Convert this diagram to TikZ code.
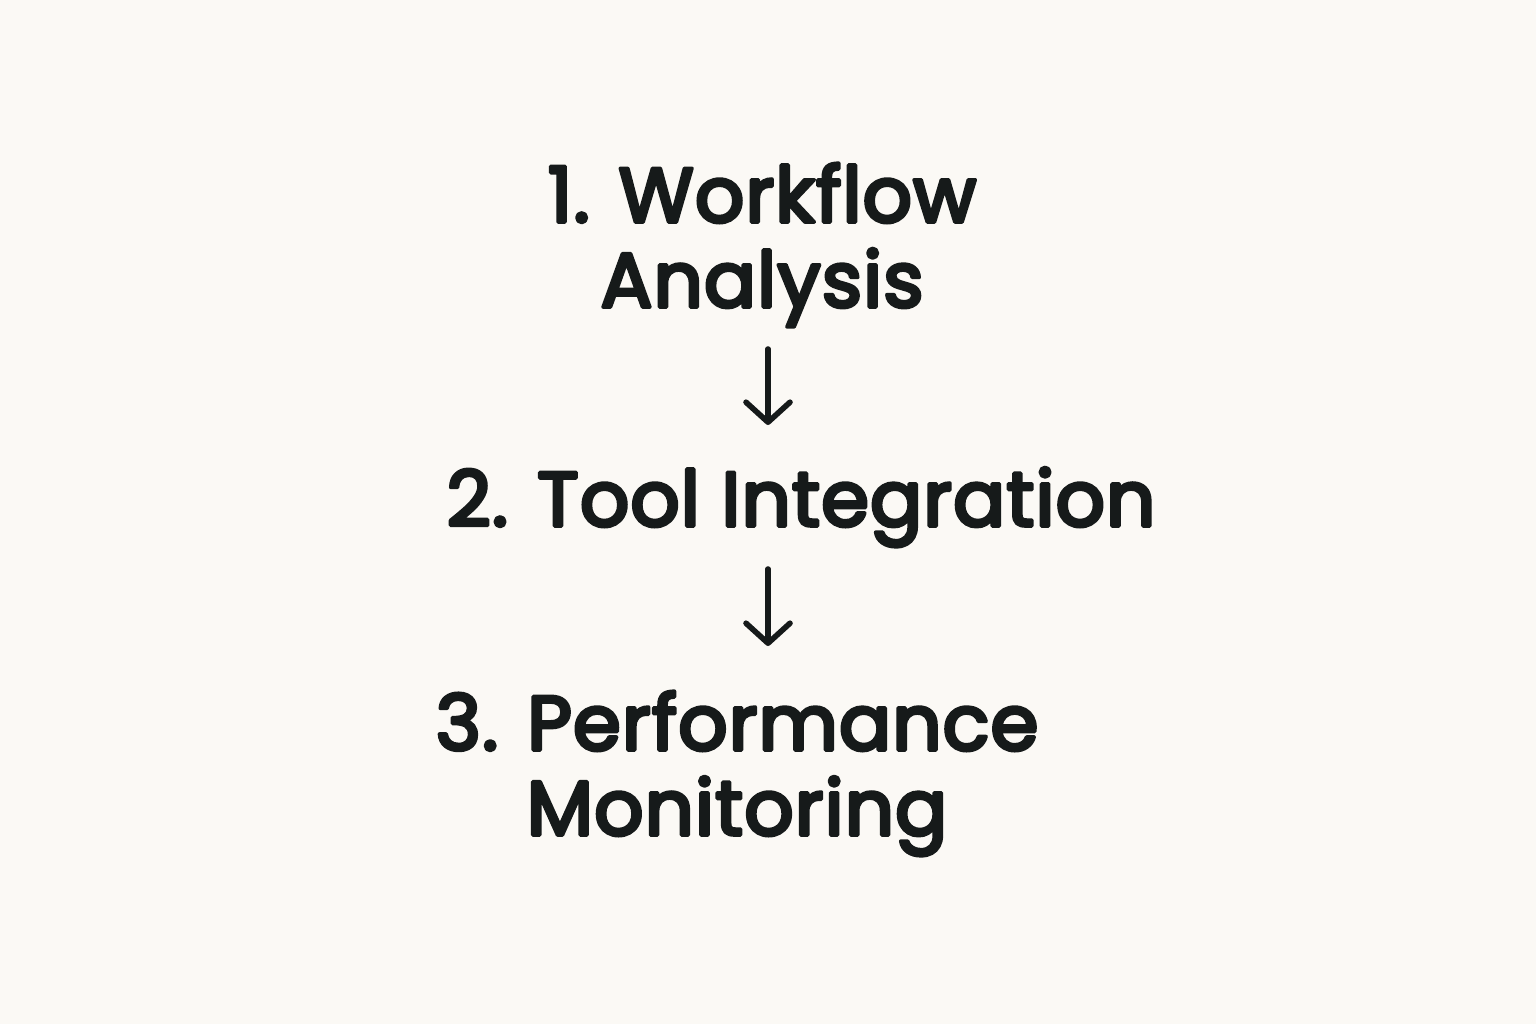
\documentclass[tikz,border=0pt]{standalone}
\usepackage{fontspec}
\newfontfamily\stepfont{Poppins}[LetterSpace=1.5]
\usetikzlibrary{arrows.meta}
\definecolor{bg}{HTML}{FBF9F5}
\definecolor{ink}{HTML}{161A1A}
\newcommand\heavytext[1]{\special{pdf:literal direct 2 Tr 1.8 w 1 j}#1\special{pdf:literal direct 0 Tr}}
\tikzset{
  steptext/.style={text=ink, font=\stepfont\fontsize{38.5}{42.5}\selectfont, align=center, inner sep=0pt, anchor=base},
  flowarrow/.style={draw=ink, line width=2.8pt, line cap=round, -{Straight Barb[length=10pt,width=22pt,line width=2.8pt,round]}}
}
\begin{document}
\begin{tikzpicture}[x=0.5pt,y=-0.5pt]
\fill[bg] (0,0) rectangle (1536,1024);
\useasboundingbox (0,0) rectangle (1536,1024);
\node[steptext] (s1) at (762,307) {\heavytext{1. Workflow}\\\heavytext{Analysis}};
\node[steptext] (s2) at (801,526) {\heavytext{2. Tool Integration}};
\node[steptext] (s3) at (737,835) {\heavytext{3. Performance}\\\heavytext{Monitoring}};
\coordinate (a1s) at (768,349);
\coordinate (a1e) at (768,425);
\coordinate (a2s) at (768,569);
\coordinate (a2e) at (768,646);
\draw[flowarrow] (a1s) -- (a1e);
\draw[flowarrow] (a2s) -- (a2e);
\end{tikzpicture}
\end{document}
